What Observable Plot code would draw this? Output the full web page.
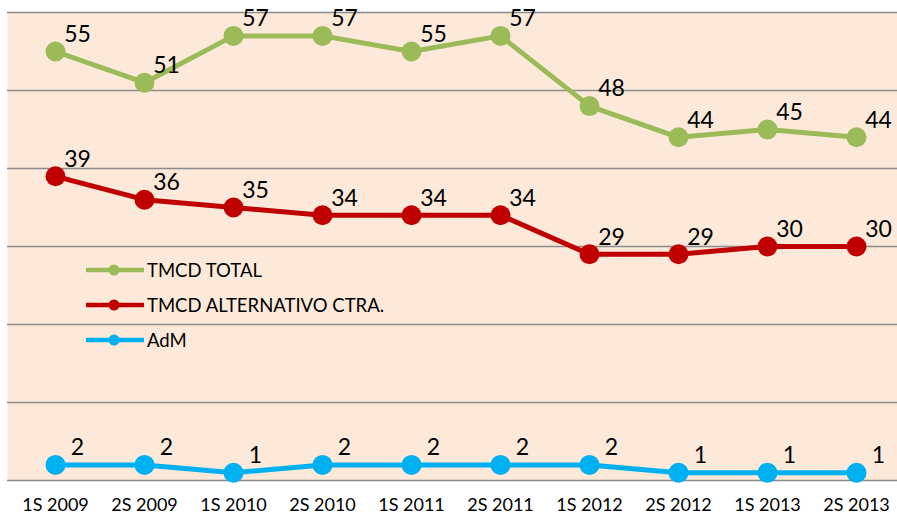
<!DOCTYPE html>
<html><head><meta charset="utf-8">
<script src="https://cdn.jsdelivr.net/npm/d3@7"></script>
<script src="https://cdn.jsdelivr.net/npm/@observablehq/plot@0.6"></script>
<style>
body{margin:0;background:#fff;font-family:Lato,sans-serif;}
#wrap{position:relative;width:897px;height:517px;}
#legend{position:absolute;left:86px;top:252px;font-family:Lato,sans-serif;font-size:18.5px;color:#000;}
#legend .row{display:flex;align-items:center;height:35px;}
#legend svg{margin-right:3px;}
</style></head>
<body><div id="wrap"><div id="legend"></div></div>
<script>
const periods = ["1S 2009","2S 2009","1S 2010","2S 2010","1S 2011","2S 2011","1S 2012","2S 2012","1S 2013","2S 2013"];
const tmcdTotal = [55,51,57,57,55,57,48,44,45,44];
const tmcdAlt = [39,36,35,34,34,34,29,29,30,30];
const adm = [2,2,1,2,2,2,2,1,1,1];
const seriesNames = ["TMCD TOTAL","TMCD ALTERNATIVO CTRA.","AdM"];
const seriesColors = ["#9BBB59","#C00000","#00B0F0"];
const yTicks = [0,10,20,30,40,50,60];

const allValues = [tmcdTotal, tmcdAlt, adm];
const data = [];
allValues.forEach((vals, si) => vals.forEach((v, i) => data.push({series: seriesNames[si], period: periods[i], value: v})));

const W = 897, H = 517;
const chart = Plot.plot({
  width: W, height: H,
  marginLeft: 7, marginRight: 0, marginTop: 12, marginBottom: 37,
  style: {fontFamily: "Lato, sans-serif", background: "#fff", overflow: "visible"},
  x: {type: "point", domain: periods, range: [55, 856], padding: 0, label: null},
  y: {domain: [0, 60], range: [480, 12], axis: null},
  color: {domain: seriesNames, range: seriesColors},
  marks: [
    Plot.frame({fill: "#FDE9D9", stroke: null}),
    Plot.ruleY(yTicks, {stroke: "#8C8C8C", strokeWidth: 1.5}),
    Plot.axisX({tickSize: 0, tickPadding: 18, fontSize: 18, fill: "#000", label: null}),
    Plot.line(data, {x: "period", y: "value", z: "series", stroke: "series", strokeWidth: 5}),
    Plot.dot(data, {x: "period", y: "value", fill: "series", r: 10}),
    Plot.text(data, {x: "period", y: "value", text: d => String(d.value), dx: 22, dy: -17, fontSize: 23, fill: "#000"})
  ]
});
document.getElementById("wrap").prepend(chart);

const legend = document.getElementById("legend");
seriesNames.forEach((n, i) => {
  const row = document.createElement("div");
  row.className = "row";
  row.innerHTML = `<svg width="58" height="14"><line x1="1" y1="7" x2="57" y2="7" stroke="${seriesColors[i]}" stroke-width="4.5" stroke-linecap="round"/><circle cx="28" cy="7" r="5.5" fill="${seriesColors[i]}"/></svg><span>${n}</span>`;
  legend.appendChild(row);
});
</script></body></html>
